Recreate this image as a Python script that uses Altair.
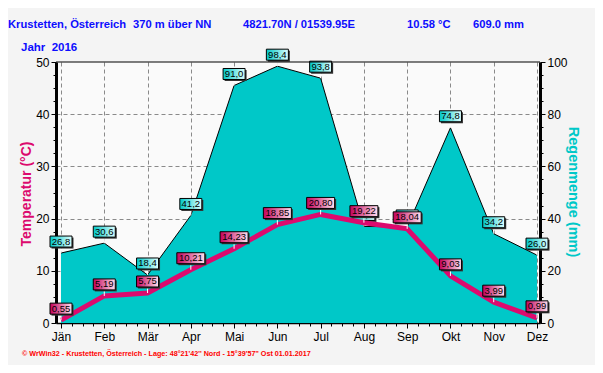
import json
import altair as alt
import pandas as pd

# ---------------- data ----------------
months = ['Jän', 'Feb', 'Mär', 'Apr', 'Mai', 'Jun', 'Jul', 'Aug', 'Sep', 'Okt', 'Nov', 'Dez']
temperature = [0.55, 5.19, 5.75, 10.21, 14.23, 18.85, 20.80, 19.22, 18.04, 9.03, 3.99, 0.99]
rainfall = [26.8, 30.6, 18.4, 41.2, 91.0, 98.4, 93.8, 37.0, 36.8, 74.8, 34.2, 26.0]

temp_axis_values = [0, 2.5, 5, 7.5, 10, 12.5, 15, 17.5, 20, 22.5, 25, 27.5, 30, 32.5, 35, 37.5, 40, 42.5, 45, 47.5, 50]
rain_axis_values = [0, 5, 10, 15, 20, 25, 30, 35, 40, 45, 50, 55, 60, 65, 70, 75, 80, 85, 90, 95, 100]
month_axis_values = [i / 4 for i in range(0, 45)]

title_items = ['Krustetten, Österreich', '370 m über NN', '4821.70N / 01539.95E', '10.58 °C', '609.0 mm']
year_text = 'Jahr\u00a0\u00a02016'
temp_title = 'Temperatur (°C)'
rain_title = 'Regenmenge (mm)'
footer = "© WrWin32 - Krustetten, Österreich - Lage: 48°21'42'' Nord - 15°39'57'' Ost  01.01.2017"

df = pd.DataFrame({
    'm': list(range(12)),
    'month': months,
    't': temperature,
    'r': rainfall,
})
df['tl'] = [f"{v:.2f}".replace('.', ',') for v in temperature]
df['rl'] = [f"{v:.1f}".replace('.', ',') for v in rainfall]

one = pd.DataFrame({'a': [0]})

# ---------------- layout ----------------
W, H = 484, 261
FONT = 'Liberation Sans'
MAG = '#dc0a6e'
CYAN = '#00c8c8'
BLUE = '#0d0dff'

months_js = json.dumps(months, ensure_ascii=False)

x_enc = alt.X(
    'm:Q',
    scale=alt.Scale(domain=[-0.1156, 11.0693], nice=False, zero=False),
    axis=alt.Axis(
        values=month_axis_values,
        labelExpr=f"datum.value % 1 == 0 ? {months_js}[datum.value] : ''",
        grid=True,
        gridColor='#8a8a8a',
        gridDash=[4, 3],
        gridWidth=1,
        gridOpacity={'condition': {'test': 'datum.value % 1 == 0', 'value': 1}, 'value': 0},
        tickSize={'condition': {'test': 'datum.value % 1 == 0', 'value': 5}, 'value': 3},
        tickColor='black',
        domainColor='black',
        domainWidth=1.5,
        labelFont=FONT,
        labelFontSize=12,
        labelColor='black',
        labelPadding=3,
        labelFlush=False,
        labelOverlap=False,
        title=None,
    ),
)

y_temp_scale = alt.Scale(domain=[0, 50], nice=False, zero=True)
y_rain_scale = alt.Scale(domain=[0, 100], nice=False, zero=True)

temp_axis = alt.Axis(
    orient='left',
    values=temp_axis_values,
    labelExpr="datum.value % 10 == 0 ? datum.label : ''",
    grid=True,
    gridColor='#8a8a8a',
    gridDash=[4, 3],
    gridOpacity={'condition': {'test': 'datum.value % 10 == 0 && datum.value > 0 && datum.value < 50', 'value': 1}, 'value': 0},
    tickSize={'condition': {'test': 'datum.value % 10 == 0', 'value': 5}, 'value': 3},
    tickColor='black',
    domainColor='black',
    domainWidth=3,
    labelFont=FONT,
    labelFontSize=12,
    labelColor='black',
    labelPadding=2,
    labelOverlap=False,
    title=None,
)

rain_axis = alt.Axis(
    orient='right',
    values=rain_axis_values,
    labelExpr="datum.value % 20 == 0 ? datum.label : ''",
    grid=False,
    tickSize={'condition': {'test': 'datum.value % 20 == 0', 'value': 5}, 'value': 3},
    tickColor='black',
    domainColor='black',
    domainWidth=3,
    labelFont=FONT,
    labelFontSize=12,
    labelColor='black',
    labelPadding=2,
    labelOverlap=False,
    title=None,
)

grad_mag = alt.Gradient(
    gradient='linear',
    stops=[alt.GradientStop(color='#c4005a', offset=0), alt.GradientStop(color='#ffe0ef', offset=1)],
    x1=0, x2=1, y1=0, y2=0,
)
grad_cyan = alt.Gradient(
    gradient='linear',
    stops=[alt.GradientStop(color='#00c8c8', offset=0), alt.GradientStop(color='#e0ffff', offset=1)],
    x1=0, x2=1, y1=0, y2=0,
)


def label_layers(field, label_field, y_enc, grad, width, filt=None):
    gap, h = 6, 11
    base = alt.Chart(df)
    if filt is not None:
        base = base.transform_filter(filt)
    shadow = base.mark_rect(
        fill='#333333', xOffset=-width / 2 + 1.5, x2Offset=width / 2 + 1.5,
        yOffset=-(gap + h) + 1.5, y2Offset=-gap + 1.5,
    ).encode(x=x_enc, x2=alt.X2('m:Q'), y=y_enc, y2=alt.Y2(f'{field}:Q'))
    box = base.mark_rect(
        fill=grad, stroke='black', strokeWidth=1,
        xOffset=-width / 2, x2Offset=width / 2,
        yOffset=-(gap + h), y2Offset=-gap,
    ).encode(x=x_enc, x2=alt.X2('m:Q'), y=y_enc, y2=alt.Y2(f'{field}:Q'))
    txt = base.mark_text(
        font=FONT, fontSize=9.5, color='black', yOffset=-(gap + h / 2), baseline='middle', align='center',
    ).encode(x=x_enc, y=y_enc, text=f'{label_field}:N')
    return [shadow, box, txt]


def stem(field, y_enc):
    return alt.Chart(df).mark_rule(color='white', strokeWidth=1, yOffset=-6, y2Offset=0).encode(
        x=x_enc, y=y_enc, y2=alt.Y2(f'{field}:Q'))


# ---------------- rain group ----------------
y_rain = alt.Y('r:Q', scale=y_rain_scale, axis=rain_axis)

area = alt.Chart(df).mark_area(
    color=CYAN, opacity=1, line={'color': 'black', 'strokeWidth': 1}
).encode(x=x_enc, y=y_rain)

rain_group = alt.layer(
    area,
    stem('r', y_rain),
    *label_layers('r', 'rl', y_rain, grad_cyan, 22),
)

# ---------------- temperature group ----------------
y_temp = alt.Y('t:Q', scale=y_temp_scale, axis=temp_axis)

line = alt.Chart(df).mark_line(color=MAG, strokeWidth=5, strokeJoin='round').encode(x=x_enc, y=y_temp)

top_border = alt.Chart(one).mark_rule(color='black', strokeWidth=1).encode(
    x=alt.value(0), x2=alt.value(W), y=alt.value(0))


def text_at(txt, x, y, **kw):
    style = dict(font=FONT, baseline='middle', align='left')
    style.update(kw)
    return alt.Chart(one).mark_text(text=txt, **style).encode(x=alt.value(x), y=alt.value(y))


title_x = [-48, 77, 187, 351, 417]
decor = [text_at(t, xx, -37.5, fontSize=11.2, fontWeight='bold', color=BLUE) for t, xx in zip(title_items, title_x)]
decor.append(text_at(year_text, -35, -14.5, fontSize=11.5, fontWeight='bold', color=BLUE))
decor.append(text_at(temp_title, -29, 132, fontSize=14, fontWeight='bold', color=MAG, angle=270, align='center'))
decor.append(text_at(rain_title, 517, 130, fontSize=14.5, fontWeight='bold', color=CYAN, angle=90, align='center'))
decor.append(text_at(footer, -34, 292, fontSize=7.2, fontWeight='bold', color='#ff0000'))

temp_group = alt.layer(
    line,
    stem('t', y_temp),
    *label_layers('t', 'tl', y_temp, grad_mag, 22, 'length(datum.tl) == 4'),
    *label_layers('t', 'tl', y_temp, grad_mag, 28, 'length(datum.tl) == 5'),
    top_border,
    *decor,
)

chart = alt.layer(rain_group, temp_group).resolve_scale(y='independent').properties(
    width=W,
    height=H,
    autosize=alt.AutoSizeParams(type='none'),
    padding={'left': 48, 'top': 54, 'right': 55, 'bottom': 42},
    background='#f4f4f4',
).configure_view(fill='#fafafa', strokeWidth=0)

chart.save('out.html', embed_options={'renderer': 'svg', 'actions': False})
